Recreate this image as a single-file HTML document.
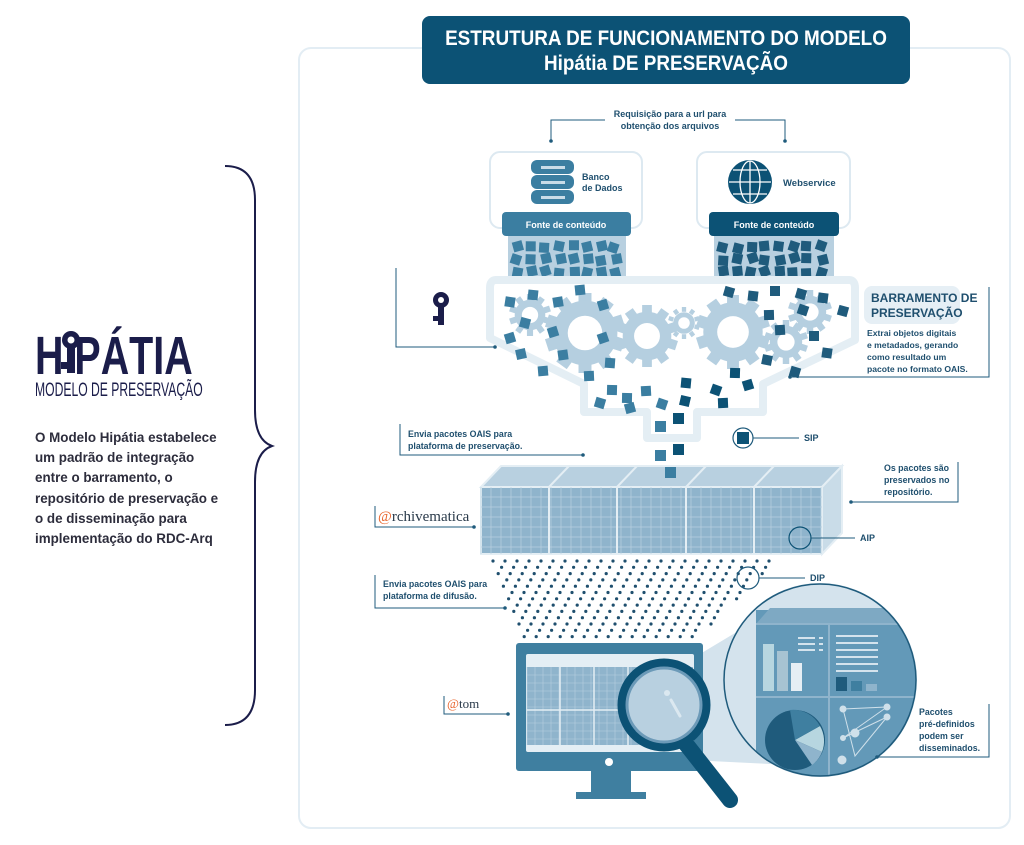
<!DOCTYPE html>
<html><head><meta charset="utf-8">
<style>
html,body{margin:0;padding:0;background:#fff;}
body{width:1024px;height:845px;overflow:hidden;position:relative;font-family:"Liberation Sans",sans-serif;}
svg{position:absolute;left:0;top:0;}
.t{font-family:"Liberation Sans",sans-serif;font-weight:bold;fill:#1f4f6e;}
</style></head>
<body>
<svg id="s" width="1024" height="845" viewBox="0 0 1024 845" xmlns="http://www.w3.org/2000/svg">
<rect x="299" y="48" width="711" height="780" rx="12" fill="#fff" stroke="#e3edf4" stroke-width="2"/>
<rect x="422" y="16" width="488" height="68" rx="8" fill="#0c5275"/>
<text x="666" y="45" text-anchor="middle" font-family="Liberation Sans" font-weight="bold" font-size="21" fill="#fff" transform="translate(666 0) scale(0.9 1) translate(-666 0)">ESTRUTURA DE FUNCIONAMENTO DO MODELO</text>
<text x="666" y="70" text-anchor="middle" font-family="Liberation Sans" font-weight="bold" font-size="21" fill="#fff" transform="translate(666 0) scale(0.9 1) translate(-666 0)">Hipátia DE PRESERVAÇÃO</text>

<text x="35" y="374" font-family="Liberation Sans" font-weight="bold" font-size="54" fill="#1b1d4a" transform="translate(35 0) scale(0.73 1) translate(-35 0)">H<tspan fill="#fff">I</tspan>PÁTIA</text>
<g fill="#1b1d4a"><circle cx="71" cy="340" r="9"/><rect x="67" y="345" width="8" height="28"/><rect x="61" y="362" width="8" height="7"/></g>
<circle cx="71" cy="340" r="3.5" fill="#fff"/>
<text x="35" y="396" font-family="Liberation Sans" font-size="19" fill="#1b1d4a" transform="translate(35 0) scale(0.64 1) translate(-35 0)">MODELO DE PRESERVAÇÃO</text>
<g font-family="Liberation Sans" font-weight="bold" font-size="13.4" fill="#2d2d3c">
<text x="35" y="442">O Modelo Hipátia estabelece</text>
<text x="35" y="462">um padrão de integração</text>
<text x="35" y="482">entre o barramento, o</text>
<text x="35" y="503">repositório de preservação e</text>
<text x="35" y="523">o de disseminação para</text>
<text x="35" y="543">implementação do RDC-Arq</text>
</g>
<path d="M225 166 Q255 166 255 200 L255 410 Q255 440 272 446 Q255 452 255 482 L255 690 Q255 725 225 725" fill="none" stroke="#1b1d4a" stroke-width="2"/>

<text class="t" x="670" y="117" text-anchor="middle" font-size="9">Requisição para a url para</text>
<text class="t" x="670" y="129" text-anchor="middle" font-size="9">obtenção dos arquivos</text>
<path d="M605 120 H551 V141 M735 120 H785 V141" fill="none" stroke="#1f5b7c" stroke-width="1"/>
<circle cx="551" cy="141" r="1.8" fill="#1f5b7c"/><circle cx="785" cy="141" r="1.8" fill="#1f5b7c"/>

<rect x="490" y="152" width="152" height="76" rx="10" fill="#fff" stroke="#dde9f1" stroke-width="2"/>
<rect x="697" y="152" width="153" height="76" rx="10" fill="#fff" stroke="#dde9f1" stroke-width="2"/>
<g fill="#3b7ea1">
<rect x="531" y="160" width="43" height="14" rx="6"/><rect x="531" y="175" width="43" height="14" rx="6"/><rect x="531" y="190" width="43" height="14" rx="6"/>
</g>
<g fill="#c9dce8"><rect x="541" y="166" width="24" height="3"/><rect x="541" y="181" width="24" height="3"/><rect x="541" y="196" width="24" height="3"/></g>
<text class="t" x="582" y="180" font-size="9">Banco</text>
<text class="t" x="582" y="191" font-size="9">de Dados</text>
<circle cx="750" cy="182" r="22" fill="#0c5275"/>
<g fill="none" stroke="#fff" stroke-width="1.3"><ellipse cx="750" cy="182" rx="10" ry="21"/><line x1="750" y1="161" x2="750" y2="203"/><line x1="729" y1="182" x2="771" y2="182"/><path d="M733 170 H767 M733 194 H767"/></g>
<text class="t" x="783" y="186" font-size="9.5">Webservice</text>
<rect x="502" y="212" width="129" height="24" rx="4" fill="#3b7ea1"/>
<rect x="709" y="212" width="130" height="24" rx="4" fill="#0c5275"/>
<text x="566" y="228" text-anchor="middle" font-size="9" font-weight="bold" fill="#fff" font-family="Liberation Sans">Fonte de conteúdo</text>
<text x="774" y="228" text-anchor="middle" font-size="9" font-weight="bold" fill="#fff" font-family="Liberation Sans">Fonte de conteúdo</text>
<rect x="508" y="236" width="118" height="42" fill="#b8d0e0"/>
<rect x="714" y="236" width="120" height="42" fill="#b8d0e0"/>
<g id="cubes"></g>

<path d="M496 280 H849 Q855 280 855 288 V340 L763 384 V412 H697 V438 H647 V412 H584 V384 L490 338 V288 Q490 280 496 280 Z" fill="none" stroke="#e4eef4" stroke-width="8" stroke-linejoin="round"/>
<g id="gears"></g>
<g id="fcubes"></g>
<g fill="#1b1d4a"><circle cx="441" cy="300" r="8"/><rect x="438" y="305" width="6" height="20"/><rect x="433" y="316" width="6" height="5"/></g>
<circle cx="441" cy="300" r="3" fill="#fff"/>
<path d="M396 268 V347 H495" fill="none" stroke="#1f5b7c" stroke-width="1"/><circle cx="495" cy="347" r="1.8" fill="#1f5b7c"/>

<rect x="864" y="286" width="96" height="38" rx="8" fill="#e6eff5"/>
<text class="t" x="871" y="302" font-size="12" fill="#1f5b7c">BARRAMENTO DE</text>
<text class="t" x="871" y="317" font-size="12" fill="#1f5b7c">PRESERVAÇÃO</text>
<g><text class="t" x="867" y="336" font-size="8.6">Extrai objetos digitais</text><text class="t" x="867" y="348" font-size="8.6">e metadados, gerando</text><text class="t" x="867" y="360" font-size="8.6">como resultado um</text><text class="t" x="867" y="372" font-size="8.6">pacote no formato OAIS.</text></g>
<path d="M989 287 V377 H790" fill="none" stroke="#1f5b7c" stroke-width="1"/><circle cx="790" cy="377" r="1.8" fill="#1f5b7c"/>

<g>
<rect x="655" y="421" width="11" height="11" fill="#3b7ea1"/><rect x="673" y="413" width="11" height="11" fill="#0c5275"/>
<rect x="655" y="450" width="11" height="11" fill="#3b7ea1"/><rect x="673" y="444" width="11" height="11" fill="#0c5275"/>
<rect x="655" y="472" width="11" height="11" fill="#3b7ea1"/><rect x="673" y="468" width="11" height="11" fill="#0c5275"/>
</g>
<text class="t" x="408" y="437" font-size="8.8">Envia pacotes OAIS para</text>
<text class="t" x="408" y="449" font-size="8.8">plataforma de preservação.</text>
<path d="M400 424 V455 H583" fill="none" stroke="#1f5b7c" stroke-width="1"/><circle cx="583" cy="455" r="1.8" fill="#1f5b7c"/>
<circle cx="743" cy="438" r="10" fill="#fff" stroke="#1f5b7c" stroke-width="1.2"/><rect x="737" y="432" width="12" height="12" fill="#0c5275"/>
<line x1="753" y1="438" x2="799" y2="438" stroke="#1f5b7c"/>
<text class="t" x="804" y="441" font-size="9">SIP</text>

<polygon points="481,487 501,466 842,466 822,487" fill="#b8d0e0" stroke="#e4eef4" stroke-width="2"/>
<polygon points="822,487 842,466 842,533 822,554" fill="#c9dce8" stroke="#e4eef4" stroke-width="2"/>
<rect x="481" y="487" width="341" height="67" fill="#8fb4cc" stroke="#e4eef4" stroke-width="2"/>
<g id="grid"></g>
<rect x="665" y="467" width="11" height="11" fill="#3b7ea1"/>
<circle cx="800" cy="538" r="11" fill="none" stroke="#0c5275" stroke-width="1.2"/>
<line x1="811" y1="538" x2="855" y2="538" stroke="#1f5b7c"/>
<text class="t" x="860" y="541" font-size="9">AIP</text>
<text x="378" y="521" font-family="Liberation Serif" font-size="15" fill="#2a3a4a"><tspan fill="#e8642c">@</tspan>rchivematica</text>
<path d="M375 506 V527 H474" fill="none" stroke="#1f5b7c"/><circle cx="474" cy="527" r="1.8" fill="#1f5b7c"/>
<g><text class="t" x="884" y="471" font-size="8.8">Os pacotes são</text><text class="t" x="884" y="483" font-size="8.8">preservados no</text><text class="t" x="884" y="495" font-size="8.8">repositório.</text></g>
<path d="M958 462 V502 H851" fill="none" stroke="#1f5b7c"/><circle cx="851" cy="502" r="1.8" fill="#1f5b7c"/>

<g id="dots" fill="#1f4f6e"></g>
<circle cx="748" cy="578" r="11" fill="none" stroke="#1f5b7c" stroke-width="1.2"/>
<line x1="759" y1="578" x2="805" y2="578" stroke="#1f5b7c"/>
<text class="t" x="810" y="581" font-size="9">DIP</text>
<text class="t" x="383" y="587" font-size="8.8">Envia pacotes OAIS para</text>
<text class="t" x="383" y="599" font-size="8.8">plataforma de difusão.</text>
<path d="M375 575 V608 H505" fill="none" stroke="#1f5b7c"/><circle cx="505" cy="608" r="1.8" fill="#1f5b7c"/>

<polygon points="690,660 790,600 790,765 690,760" fill="#d4e3ed"/>
<rect x="516" y="643" width="187" height="128" rx="3" fill="#3f7fa0"/>
<rect x="526" y="654" width="168" height="98" rx="2" fill="#e4eef4"/>
<rect x="527" y="667" width="166" height="78" fill="#8fb4cc"/>
<g id="mgrid"></g>
<circle cx="609" cy="762" r="4" fill="#fff"/>
<rect x="591" y="771" width="40" height="22" fill="#3f7fa0"/>
<rect x="576" y="792" width="70" height="7" fill="#3f7fa0"/>
<line x1="686" y1="744" x2="730" y2="800" stroke="#0c5275" stroke-width="16" stroke-linecap="round"/>
<circle cx="664" cy="705" r="42" fill="#b8d0e0" stroke="#0c5275" stroke-width="9"/>
<circle cx="664" cy="705" r="37" fill="none" stroke="#6c9ab8" stroke-width="3"/>
<circle cx="667" cy="693" r="3" fill="#dbe8f0"/>
<line x1="671" y1="700" x2="680" y2="716" stroke="#dbe8f0" stroke-width="3" stroke-linecap="round"/>
<defs><clipPath id="zc"><circle cx="820" cy="680" r="96"/></clipPath></defs>
<circle cx="820" cy="680" r="97" fill="#d4e3ed"/>
<g clip-path="url(#zc)">
<rect x="756" y="610" width="200" height="200" fill="#6399b8"/>
<polygon points="756,624 770,608 960,608 960,624" fill="#7ea9c3"/>
<line x1="756" y1="624" x2="960" y2="624" stroke="#8fb4cc" stroke-width="2"/>
<line x1="829" y1="624" x2="829" y2="800" stroke="#8fb4cc" stroke-width="2"/>
<line x1="756" y1="697" x2="960" y2="697" stroke="#8fb4cc" stroke-width="2"/>
<rect x="763" y="644" width="11" height="47" fill="#b7d6e0"/><rect x="777" y="651" width="11" height="40" fill="#a7c3d2"/><rect x="791" y="663" width="11" height="28" fill="#e6eef4"/>
<g fill="#d4e3ed"><rect x="798" y="637" width="17" height="2"/><rect x="798" y="643" width="17" height="2"/><rect x="798" y="649" width="17" height="2"/><rect x="819" y="637" width="4" height="2"/><rect x="819" y="643" width="4" height="2"/><rect x="819" y="649" width="4" height="2"/>
<rect x="836" y="635" width="42" height="2"/><rect x="836" y="642" width="42" height="2"/><rect x="836" y="649" width="42" height="2"/><rect x="836" y="656" width="42" height="2"/><rect x="836" y="663" width="42" height="2"/><rect x="836" y="670" width="42" height="2"/></g>
<rect x="836" y="677" width="11" height="14" fill="#1f5b7c"/><rect x="851" y="681" width="11" height="10" fill="#3f7fa0"/><rect x="866" y="684" width="11" height="7" fill="#8fb4cc"/>
<circle cx="795" cy="740" r="30" fill="#1f5b7c"/>
<path d="M795 740 L820 726 A30 30 0 0 1 822 752 Z" fill="#b7d6e0"/>
<path d="M795 740 L822 752 A30 30 0 0 1 812 765 Z" fill="#8fb4cc"/>
<path d="M795 740 L790 710 A30 30 0 0 1 820 726 Z" fill="#3f7fa0"/>
<g stroke="#cfe0ea" stroke-width="1" fill="#cfe0ea"><path d="M843 709 L887 707 L843 738 L887 717 L855 756 L843 709" fill="none"/><circle cx="843" cy="709" r="3"/><circle cx="887" cy="707" r="3"/><circle cx="887" cy="717" r="3"/><circle cx="843" cy="738" r="2.5"/><circle cx="855" cy="733" r="4"/><circle cx="842" cy="760" r="4"/></g>
</g>
<circle cx="820" cy="680" r="96" fill="none" stroke="#1f5b7c" stroke-width="1.5"/>
<text x="447" y="708" font-family="Liberation Serif" font-size="13" fill="#2a3a4a"><tspan fill="#e8642c">@</tspan>tom</text>
<path d="M444 696 V714 H508" fill="none" stroke="#1f5b7c"/><circle cx="508" cy="714" r="1.8" fill="#1f5b7c"/>
<g><text class="t" x="919" y="715" font-size="8.8">Pacotes</text><text class="t" x="919" y="727" font-size="8.8">pré-definidos</text><text class="t" x="919" y="739" font-size="8.8">podem ser</text><text class="t" x="919" y="751" font-size="8.8">disseminados.</text></g>
<path d="M989 704 V757 H877" fill="none" stroke="#1f5b7c"/><circle cx="877" cy="757" r="1.8" fill="#1f5b7c"/>
</svg>
<script>
var NS="http://www.w3.org/2000/svg";
function el(p,t,a){var e=document.createElementNS(NS,t);for(var k in a)e.setAttribute(k,a[k]);document.getElementById(p).appendChild(e);return e;}
var r=7;function rnd(){r=(r*9301+49297)%233280;return r/233280;}
[[508,626,"#3b7ea1"],[714,834,"#1f5b7c"]].forEach(function(b){
 for(var y=240;y<274;y+=13)for(var x=b[0]+3;x<b[1]-8;x+=14){
  el("cubes","rect",{x:x+rnd()*3,y:y+rnd()*3,width:10,height:10,fill:b[2],transform:"rotate("+(rnd()*40-20)+" "+(x+5)+" "+(y+5)+")"});}});
function gear(cx,cy,R){
 for(var i=0;i<10;i++){var a=i*36;el("gears","rect",{x:cx-R*0.18,y:cy-R-4,width:R*0.36,height:R*0.4,fill:"#b5cfe0",transform:"rotate("+a+" "+cx+" "+cy+")"});}
 el("gears","circle",{cx:cx,cy:cy,r:R*0.9,fill:"#b5cfe0"});
 el("gears","circle",{cx:cx,cy:cy,r:R*0.48,fill:"#fff"});}
gear(530,315,17);gear(585,333,36);gear(647,336,27);gear(684,323,12);gear(733,332,33);gear(810,312,18);gear(786,342,18);
var fc=[[505,297,"#3b7ea1"],[528,290,"#3b7ea1"],[553,297,"#3b7ea1"],[575,285,"#3b7ea1"],[598,300,"#3b7ea1"],[520,318,"#3b7ea1"],[505,333,"#3b7ea1"],[548,327,"#3b7ea1"],[516,349,"#3b7ea1"],[558,350,"#3b7ea1"],[598,333,"#3b7ea1"],[605,358,"#3b7ea1"],[584,371,"#3b7ea1"],[538,366,"#3b7ea1"],[607,385,"#3b7ea1"],[595,398,"#3b7ea1"],[622,393,"#3b7ea1"],[641,386,"#3b7ea1"],[625,403,"#3b7ea1"],
[724,287,"#1f5b7c"],[748,291,"#1f5b7c"],[770,286,"#1f5b7c"],[796,289,"#1f5b7c"],[818,293,"#1f5b7c"],[764,310,"#1f5b7c"],[798,305,"#1f5b7c"],[838,306,"#1f5b7c"],[775,325,"#1f5b7c"],[809,331,"#1f5b7c"],[822,348,"#1f5b7c"],[762,355,"#1f5b7c"],[790,367,"#1f5b7c"],[730,368,"#0c5275"],[711,385,"#0c5275"],[681,378,"#0c5275"],[680,396,"#0c5275"],[718,398,"#0c5275"],[743,380,"#0c5275"],[657,399,"#3b7ea1"]];
fc.forEach(function(c){el("fcubes","rect",{x:c[0],y:c[1],width:10,height:10,fill:c[2],transform:"rotate("+(rnd()*40-20)+" "+(c[0]+5)+" "+(c[1]+5)+")"});});
for(var x=481;x<822;x+=10)el("grid","line",{x1:x,y1:487,x2:x,y2:554,stroke:"#b8d0e0","stroke-width":0.7});
for(var y=497;y<554;y+=10)el("grid","line",{x1:481,y1:y,x2:822,y2:y,stroke:"#b8d0e0","stroke-width":0.7});
[549,617,686,754].forEach(function(x){el("grid","line",{x1:x,y1:487,x2:x,y2:554,stroke:"#e4eef4","stroke-width":2});el("grid","line",{x1:x,y1:487,x2:x+20,y2:466,stroke:"#e4eef4","stroke-width":2});});
for(var i=0;i<13;i++){var y=561+i*6.3;var x0=493+i*2.6,x1=777-i*6.5;var off=(i%2)*6;for(var x=x0+off;x<=x1;x+=12)el("dots","circle",{cx:x,cy:y,r:1.6});}
for(var x=527;x<693;x+=8)el("mgrid","line",{x1:x,y1:667,x2:x,y2:745,stroke:"#b8d0e0","stroke-width":0.6});
for(var y=675;y<745;y+=8)el("mgrid","line",{x1:527,y1:y,x2:693,y2:y,stroke:"#b8d0e0","stroke-width":0.6});
[560,594,628].forEach(function(x){el("mgrid","line",{x1:x,y1:667,x2:x,y2:745,stroke:"#e4eef4","stroke-width":1.5});});
el("mgrid","line",{x1:527,y1:710,x2:693,y2:710,stroke:"#e4eef4","stroke-width":1.5});
</script>
</body></html>
